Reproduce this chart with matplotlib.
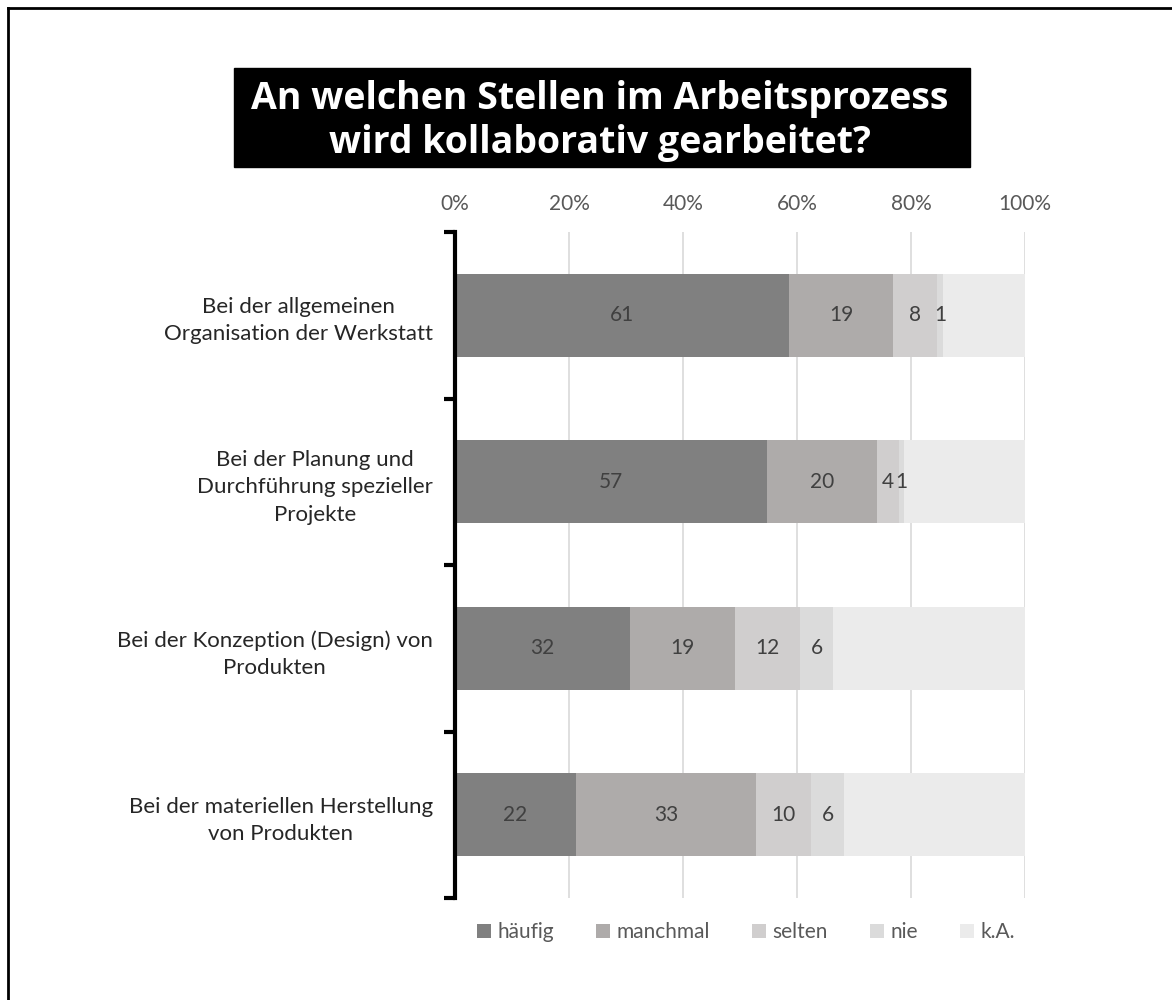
import matplotlib.pyplot as plt
from matplotlib.lines import Line2D
from matplotlib.ticker import FixedLocator, PercentFormatter
import numpy as np

plt.rcParams['font.family'] = ['Lato', 'DejaVu Sans']

# Kategorien (von oben nach unten)
kategorien = [
    "Bei der allgemeinen\nOrganisation der Werkstatt",
    "Bei der Planung und\nDurchführung spezieller\nProjekte",
    "Bei der Konzeption (Design) von\nProdukten",
    "Bei der materiellen Herstellung\nvon Produkten",
]
serien = ["häufig", "manchmal", "selten", "nie", "k.A."]
haeufig = [61, 57, 32, 22]
manchmal = [19, 20, 19, 33]
selten = [8, 4, 12, 10]
nie = [1, 1, 6, 6]
keine_angabe = [15, 22, 35, 33]
farben = ["#808080", "#aeabaa", "#d0cece", "#dbdbdb", "#ebebeb"]

werte = np.array([haeufig, manchmal, selten, nie, keine_angabe], dtype=float)
anteile = werte / werte.sum(axis=0) * 100

fig = plt.figure(figsize=(11.72, 10), dpi=100)
ax = fig.add_axes([455 / 1172, 0.102, 570 / 1172, 0.666])

y = np.arange(len(kategorien))
links = np.zeros(len(kategorien))
for i, name in enumerate(serien):
    balken = ax.barh(y, anteile[i], left=links, height=0.5, color=farben[i],
                     label=name, zorder=2)
    if name != "k.A.":
        for j, b in enumerate(balken):
            ax.text(links[j] + anteile[i][j] / 2, y[j], f"{int(werte[i][j])}",
                    ha='center', va='center', fontsize=15, color='#404040')
    links += anteile[i]

ax.set_xlim(0, 100)
ax.set_ylim(len(kategorien) - 0.5, -0.5)
ax.xaxis.tick_top()
ax.set_xticks(np.arange(0, 101, 20))
ax.xaxis.set_major_formatter(PercentFormatter(decimals=0))
ax.tick_params(axis='x', length=0, labelsize=15, labelcolor='#595959', pad=13)
ax.grid(axis='x', color='#d9d9d9', linewidth=1.2, zorder=0)
ax.set_axisbelow(True)

ax.set_yticks(y)
ax.set_yticklabels(kategorien, ha='right', multialignment='center', linespacing=1.45)
ax.tick_params(axis='y', which='major', length=0, labelsize=16, labelcolor='#262626', pad=16)
ax.yaxis.set_minor_locator(FixedLocator(np.arange(-0.5, len(kategorien), 1)))
ax.tick_params(axis='y', which='minor', length=8, width=3, direction='out', color='black')

for s in ['top', 'right', 'bottom']:
    ax.spines[s].set_visible(False)
ax.spines['left'].set_linewidth(3)
ax.spines['left'].set_color('black')

ax.legend(loc='upper center', bbox_to_anchor=(0.51, -0.021), ncol=5, frameon=False,
          fontsize=15, handlelength=0.7, handleheight=0.7, handletextpad=0.3,
          columnspacing=2.0, labelcolor='#595959', borderpad=0)

# Titel mit schwarzem Kasten
fig.patches.append(plt.Rectangle((234 / 1172, 1 - 167 / 1000), (970 - 234) / 1172, 0.099,
                                 transform=fig.transFigure, color='black', zorder=1))
fig.text(600 / 1172, 1 - 121 / 1000,
         "An welchen Stellen im Arbeitsprozess\nwird kollaborativ gearbeitet?",
         ha='center', va='center', color='white', fontsize=27, fontweight='bold',
         family=['Open Sans', 'DejaVu Sans'], linespacing=1.22, zorder=2)

# Rahmen oben und links
fig.add_artist(Line2D([7.5 / 1172, 1], [1 - 7.5 / 1000, 1 - 7.5 / 1000],
                      transform=fig.transFigure, color='black', linewidth=2))
fig.add_artist(Line2D([7.5 / 1172, 7.5 / 1172], [0, 1 - 7.5 / 1000],
                      transform=fig.transFigure, color='black', linewidth=2))

fig.savefig("out.png", dpi=100)
